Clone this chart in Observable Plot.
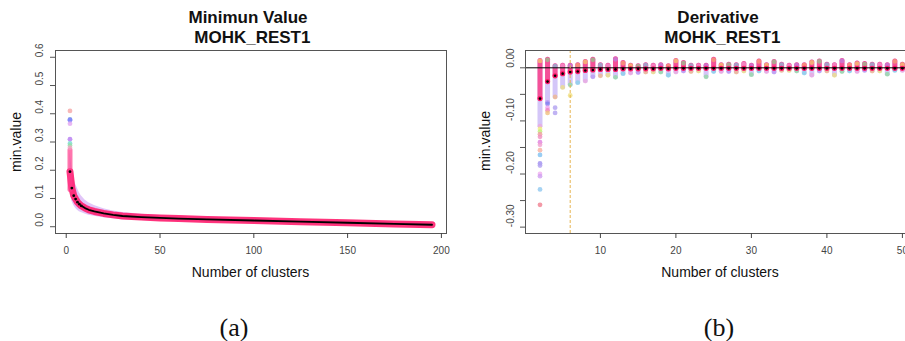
<!DOCTYPE html>
<html><head><meta charset="utf-8">
<script src="https://cdn.jsdelivr.net/npm/d3@7"></script>
<script src="https://cdn.jsdelivr.net/npm/@observablehq/plot@0.6"></script>
<style>
body{margin:0;background:#fff;}
#fig{position:relative;width:905px;height:341px;overflow:hidden;font-family:"Liberation Sans",Arial,sans-serif;background:#fff}
#fig svg{position:absolute;top:0;}
.t{position:absolute;white-space:pre;text-align:center;color:#111;}
</style></head><body><div id="fig"></div>
<script>
// ---------- Panel (a): minimum value ----------
const aX    = [2,3,4,5,6,7,8,10,12,15,20,25,30,40,50,60,75,100,125,150,175,195];
const aMean = [0.195,0.137,0.110,0.098,0.087,0.080,0.074,0.066,0.060,0.054,0.047,0.042,0.038,0.034,0.031,0.029,0.026,0.022,0.018,0.014,0.010,0.007];
const aHi   = [0.270,0.210,0.170,0.150,0.135,0.120,0.110,0.095,0.085,0.075,0.064,0.056,0.050,0.044,0.040,0.037,0.034,0.029,0.025,0.020,0.016,0.012];
const aLo   = [0.130,0.090,0.075,0.065,0.058,0.053,0.050,0.045,0.041,0.037,0.032,0.028,0.025,0.022,0.020,0.018,0.017,0.014,0.011,0.008,0.005,0.002];
const aOutX = [2,2,2,2,2,2,2,2];
const aOutY = [0.41,0.38,0.377,0.365,0.31,0.295,0.288,0.28];
const aOutC = ["#f4a0a0","#6a8de0","#8080ff","#e0a0f0","#b070f0","#70d8d0","#90e0a0","#f0a0c0"];
const xTicksA = [0,50,100,150,200];
const yTicksA = [0,0.1,0.2,0.3,0.4,0.5,0.6];

// ---------- Panel (b): derivative ----------
const bX = [2,3,4,5,6,7,8,9,10,11,12,13,14,15,16,17,18,19,20,21,22,23,24,25,26,27,28,29,30,31,32,33,34,35,36,37,38,39,40,41,42,43,44,45,46,47,48,49,50];
const bMean = [-0.058,-0.026,-0.015,-0.011,-0.008,-0.007,-0.005,-0.004,-0.003,-0.003,-0.003,-0.002,-0.002,-0.002,-0.002,-0.002,-0.001,-0.002,-0.001,-0.001,-0.001,-0.001,-0.001,-0.001,-0.001,-0.001,-0.001,-0.001,-0.001,-0.001,-0.001,-0.001,-0.001,-0.001,-0.001,-0.001,-0.001,-0.001,-0.001,-0.001,-0.001,-0.001,-0.001,-0.001,-0.001,-0.001,-0.001,-0.001,-0.001];
const bHi = [0.013,0.015,0.003,0.004,0.004,0.005,0.011,0.015,0.005,0.004,0.016,0.009,0.004,0.003,0.005,0.004,0.005,0.003,0.013,0.009,0.004,0.004,0.004,0.015,0.005,0.006,0.005,0.007,0.004,0.012,0.005,0.011,0.006,0.004,0.005,0.005,0.010,0.012,0.006,0.005,0.013,0.005,0.008,0.007,0.006,0.006,0.005,0.012,0.006];
const bLo = [-0.110,-0.065,-0.055,-0.037,-0.032,-0.028,-0.025,-0.017,-0.015,-0.014,-0.018,-0.011,-0.010,-0.009,-0.008,-0.008,-0.008,-0.014,-0.008,-0.006,-0.007,-0.006,-0.017,-0.007,-0.007,-0.007,-0.008,-0.006,-0.013,-0.006,-0.007,-0.008,-0.005,-0.005,-0.006,-0.010,-0.014,-0.006,-0.006,-0.014,-0.007,-0.006,-0.007,-0.005,-0.006,-0.006,-0.012,-0.005,-0.005];
const bOutX = [2,2,2,2,2,2,2,2,2,2,2,2,2,2,3,3,3,3,4,4,6];
const bOutY = [-0.115,-0.12,-0.125,-0.13,-0.14,-0.145,-0.155,-0.164,-0.18,-0.184,-0.2,-0.204,-0.229,-0.258,-0.068,-0.075,-0.08,-0.085,-0.075,-0.085,-0.052];
const bOutC = ["#f0f080","#c0f080","#f0a0a0","#f090c0","#e080e0","#f0a0d0","#f8b0a0","#80c0f0","#a090f0","#b0a0f0","#f0b0f0","#d0a0f0","#90c8f0","#f08090","#8080f0","#f0a0f0","#f080c0","#f0c080","#b0a0f0","#b0a0f0","#f0e080"];
const xTicksB = [10,20,30,40,50];
const yTicksB = [0,-0.05,-0.1,-0.15,-0.2,-0.25,-0.3];
const yLabelsB = [0,-0.1,-0.2,-0.3];
const elbowB = [6];
const palette = ["#f5e663","#7fe08a","#6fd6e8","#f2a0d8","#b08cf0","#f7b36a"];

const A = aX.map((x,i)=>({x, mean:aMean[i], lo:aLo[i], hi:aHi[i]}));
const AO = aOutX.map((x,i)=>({x, y:aOutY[i], c:aOutC[i]}));
const B = bX.map((x,i)=>({x, mean:bMean[i], lo:bLo[i], hi:bHi[i], c1:palette[i%6], c2:palette[(i+3)%6]}));
const BO = bOutX.map((x,i)=>({x, y:bOutY[i], c:bOutC[i]}));

const font = "Liberation Sans, Arial, sans-serif";

const plotA = Plot.plot({
  width:450, height:290, marginLeft:55, marginRight:4, marginTop:50, marginBottom:57,
  x:{domain:[-5.72,202.72]}, y:{domain:[-0.024,0.624]},
  color:{type:"identity"},
  style:{fontFamily:font, background:"transparent", overflow:"visible"},
  marks:[
    Plot.areaY(A,{x:"x",y1:"lo",y2:"hi",fill:"#c38cf2",fillOpacity:0.5}),
    Plot.lineY(A,{x:"x",y:"mean",stroke:"#ff1f6e",strokeWidth:7,strokeOpacity:0.9,strokeLinecap:"round"}),
    Plot.ruleX(A.slice(0,1),{x:"x",y1:"lo",y2:"hi",stroke:"#ff3a8a",strokeWidth:5,strokeLinecap:"round",strokeOpacity:0.7}),
    Plot.dot(AO,{x:"x",y:"y",fill:"c",r:2.4,fillOpacity:0.75}),
    Plot.lineY(A.filter(d=>d.x>=8),{x:"x",y:"mean",stroke:"#000",strokeWidth:1.8}),
    Plot.dot(A.filter(d=>d.x<=8),{x:"x",y:"mean",fill:"#000",r:1.4}),
    Plot.frame({stroke:"#555"}),
    Plot.axisX(xTicksA,{tickSize:5,tickPadding:8,fontSize:10,color:"#444",label:null}),
    Plot.axisY(yTicksA,{tickSize:5,tickFormat:()=>"",color:"#555",label:null}),
    Plot.text(yTicksA,{y:d=>d,frameAnchor:"left",dx:-16,rotate:-90,text:d=>d.toFixed(1),fontSize:10,fill:"#444"})
  ]
});
plotA.style.left = "0px";

const plotB = Plot.plot({
  width:470, height:290, marginLeft:75, marginRight:3.6, marginTop:50, marginBottom:57,
  x:{domain:[0.08,51.92]}, y:{domain:[-0.312,0.0326]},
  color:{type:"identity"},
  style:{fontFamily:font, background:"transparent", overflow:"visible"},
  marks:[
    Plot.ruleX(B,{x:"x",y1:"lo",y2:"hi",stroke:"#b8a0f4",strokeOpacity:0.6,strokeWidth:5,strokeLinecap:"round"}),
    Plot.ruleX(B,{x:"x",y1:"hi",y2:"mean",stroke:"#ff2a78",strokeOpacity:0.75,strokeWidth:5,strokeLinecap:"round"}),
    Plot.dot(B,{x:"x",y:"hi",fill:"c1",r:2.4,fillOpacity:0.6}),
    Plot.dot(B,{x:"x",y:"lo",fill:"c2",r:2.4,fillOpacity:0.6}),
    Plot.dot(BO,{x:"x",y:"y",fill:"c",r:2.4,fillOpacity:0.8}),
    Plot.dot(B,{x:"x",y:"mean",fill:"#ff1060",r:2.6,fillOpacity:0.9}),
    Plot.ruleY([0],{stroke:"#000",strokeWidth:1}),
    Plot.ruleX(elbowB,{stroke:"#e6b450",strokeDasharray:"3,2",strokeWidth:1}),
    Plot.dot(B,{x:"x",y:"mean",fill:"#000",r:1.3}),
    Plot.frame({stroke:"#555"}),
    Plot.axisX(xTicksB,{tickSize:5,tickPadding:8,fontSize:10,color:"#444",label:null}),
    Plot.axisY(yTicksB,{tickSize:5,tickFormat:()=>"",color:"#555",label:null}),
    Plot.text(yLabelsB,{y:d=>d,frameAnchor:"left",dx:-15,rotate:-90,text:d=>d.toFixed(2),fontSize:10,fill:"#444"})
  ]
});
plotB.style.left = "450px";

const fig = document.getElementById("fig");
fig.appendChild(plotA);
fig.appendChild(plotB);

function label(txt, cx, baseline, size, opts={}) {
  const d = document.createElement("div");
  d.className = "t";
  d.textContent = txt;
  const ratio = opts.serif ? 0.8375 : 0.8465;
  d.style.fontSize = size + "px";
  d.style.lineHeight = size + "px";
  d.style.width = "300px";
  d.style.left = (cx - 150) + "px";
  d.style.top = (baseline - ratio*size) + "px";
  if (opts.bold) d.style.fontWeight = "bold";
  if (opts.serif) d.style.fontFamily = "'Liberation Serif','DejaVu Serif',serif";
  fig.appendChild(d);
}
function vlabel(txt, cx, cy, size) {
  const d = document.createElement("div");
  d.className = "t";
  d.textContent = txt;
  d.style.fontSize = size + "px";
  d.style.lineHeight = size + "px";
  d.style.width = "200px";
  d.style.height = size + "px";
  d.style.left = (cx - 100) + "px";
  d.style.top = (cy - size/2) + "px";
  d.style.transform = "rotate(-90deg)";
  d.style.transformOrigin = "50% 50%";
  fig.appendChild(d);
}
label("Minimun Value", 248, 23.3, 17, {bold:true});
label(" MOHK_REST1", 250, 43.3, 17, {bold:true});
label("Derivative", 718, 23.3, 17, {bold:true});
label(" MOHK_REST1", 720, 43.3, 17, {bold:true});
label("Number of clusters", 250.5, 276.7, 14);
label("Number of clusters", 720, 276.7, 14);
vlabel("min.value", 15.5, 141.5, 14);
vlabel("min.value", 485, 141, 14);
label("(a)", 234, 336.5, 26, {serif:true});
label("(b)", 719, 336.5, 26, {serif:true});
</script></body></html>
